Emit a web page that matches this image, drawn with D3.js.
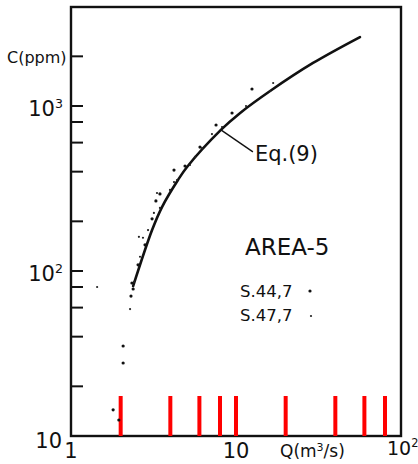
<!DOCTYPE html>
<html>
<head>
<meta charset="utf-8">
<script src="https://cdn.jsdelivr.net/npm/d3@7/dist/d3.min.js"></script>
<style>
  html, body { margin: 0; padding: 0; background: #fff; }
  svg { display: block; }
  text { font-family: "DejaVu Sans", sans-serif; fill: #111; }
</style>
</head>
<body>
<svg id="chart" width="418" height="464"></svg>
<script>
// Discharge Q (m3/s) and concentration C (ppm), two survey series
const seriesNames = ["S.44,7", "S.47,7"];
const s44Q = [1.80, 1.95, 2.07, 2.07, 2.31, 2.38, 2.34, 2.55, 2.81, 3.10, 3.27, 3.46, 4.21, 4.91, 6.05, 7.57, 9.46, 12.5];
const s44C = [14.4, 12.5, 27.7, 35.1, 70.5, 77.8, 84.6, 109, 144, 207, 266, 293, 409, 433, 564, 767, 907, 1268];
const s47Q = [1.44, 2.28, 2.41, 2.62, 2.58, 2.73, 2.93, 3.18, 3.32, 3.46, 3.98, 4.21, 4.39, 5.26, 5.64, 6.22, 7.15, 8.23, 11.5, 16.1, 16.8];
const s47C = [80, 58.8, 85.8, 122, 161, 159, 177, 225, 297, 241, 310, 346, 356, 439, 491, 556, 676, 746, 1000, 1233, 1378];

// Eq.(9) fitted curve
const eqQ = [2.38, 3.1, 3.56, 4.45, 5.05, 8.1, 10.6, 16.1, 29.3, 56.4];
const eqC = [81, 177, 244, 356, 427, 716, 908, 1233, 1823, 2618];

// Tick positions
const qTicks = [2, 4, 6, 8, 10, 20, 40, 60, 80];
const cTicks = [20, 40, 60, 80, 100, 200, 400, 600, 800, 1000, 2000];

(function () {
const svg = d3.select("#chart");
const mLeft = 71, mRight = 401, mBottom = 436, mTop = 7;
const tickLen = 12;

const x = d3.scaleLog().domain([1, 100]).range([mLeft, mRight]);
const y = d3.scaleLog().domain([10, Math.pow(10, 3.6)]).range([mBottom, mTop]);

// Frame
svg.append("rect")
  .attr("x", mLeft).attr("y", mTop)
  .attr("width", mRight - mLeft).attr("height", mBottom - mTop)
  .attr("fill", "none").attr("stroke", "#111").attr("stroke-width", 2.4);

// Inward ticks on the C axis
svg.append("g").selectAll("line").data(cTicks).join("line")
  .attr("x1", mLeft).attr("x2", mLeft + tickLen)
  .attr("y1", d => y(d)).attr("y2", d => y(d))
  .attr("stroke", "#111").attr("stroke-width", 2);

// Inward ticks on the Q axis
svg.append("g").selectAll("line").data(qTicks).join("line")
  .attr("x1", d => x(d)).attr("x2", d => x(d))
  .attr("y1", mBottom - 40).attr("y2", mBottom)
  .attr("stroke", "red").attr("stroke-width", 4);

// Decade labels with superscripts
function powLabel(px, py, base, sup, anchor, size) {
  const t = svg.append("text").attr("x", px).attr("y", py)
    .attr("text-anchor", anchor).attr("font-size", size);
  t.append("tspan").text(base);
  if (sup) t.append("tspan").attr("dy", -8).attr("font-size", size * 0.6).text(sup);
  return t;
}
powLabel(mLeft - 8, y(1000) + 10, "10", "3", "end", 21);
powLabel(mLeft - 8, y(100) + 10, "10", "2", "end", 21);
powLabel(mLeft - 9, mBottom + 12, "10", "", "end", 21);
powLabel(x(1), mBottom + 22, "1", "", "middle", 21);
powLabel(x(10), mBottom + 22, "10", "", "middle", 21);
powLabel(x(100) - 14, mBottom + 19, "10", "2", "start", 19);

svg.append("text").attr("x", 7).attr("y", y(2000) + 7)
  .attr("font-size", 16).text("C(ppm)");
const ql = svg.append("text").attr("x", 280).attr("y", mBottom + 21).attr("font-size", 17);
ql.append("tspan").text("Q(m");
ql.append("tspan").attr("dy", -6).attr("font-size", 11).text("3");
ql.append("tspan").attr("dy", 6).text("/s)");

// Eq.(9) curve
const line = d3.line()
  .x((d, i) => x(eqQ[i]))
  .y((d, i) => y(eqC[i]))
  .curve(d3.curveCatmullRom.alpha(0.5));
svg.append("path").datum(eqQ).attr("d", line)
  .attr("fill", "none").attr("stroke", "#111").attr("stroke-width", 2.6)
  .attr("stroke-linecap", "round");

// Observations
svg.append("g").selectAll("circle").data(s44Q).join("circle")
  .attr("cx", (d, i) => x(d)).attr("cy", (d, i) => y(s44C[i]))
  .attr("r", 1.6).attr("fill", "#111");
svg.append("g").selectAll("circle").data(s47Q).join("circle")
  .attr("cx", (d, i) => x(d)).attr("cy", (d, i) => y(s47C[i]))
  .attr("r", 1.1).attr("fill", "#222");

// Curve annotation
const ax = x(eqQ[5]), ay = y(eqC[5]);
svg.append("line").attr("x1", ax).attr("y1", ay).attr("x2", ax + 32).attr("y2", ay + 22)
  .attr("stroke", "#111").attr("stroke-width", 1.4);
svg.append("text").attr("x", ax + 34).attr("y", ay + 31).attr("font-size", 21).text("Eq.(9)");

// Legend
svg.append("text").attr("x", 245).attr("y", 255).attr("font-size", 23).text("AREA-5");
svg.append("text").attr("x", 240).attr("y", 297).attr("font-size", 16.5).text(seriesNames[0]);
svg.append("text").attr("x", 240).attr("y", 321).attr("font-size", 16.5).text(seriesNames[1]);
svg.append("circle").attr("cx", 310).attr("cy", 291).attr("r", 1.6).attr("fill", "#111");
svg.append("circle").attr("cx", 311).attr("cy", 316).attr("r", 1.1).attr("fill", "#222");
})();
</script>
</body>
</html>
